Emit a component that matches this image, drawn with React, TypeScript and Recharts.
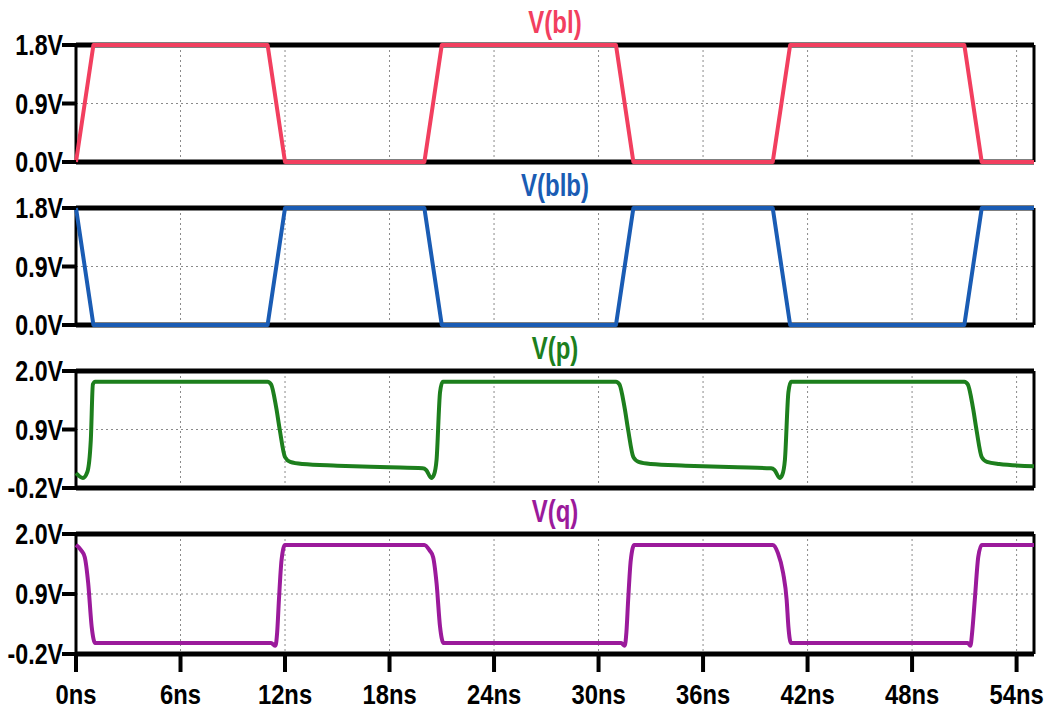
import React from 'react';
import { LineChart, Line, XAxis, YAxis, CartesianGrid } from 'recharts';

// ---- data ----
const timeTicks = [0, 6, 12, 18, 24, 30, 36, 42, 48, 54];
const timeDomain: [number, number] = [0, 55];

const blTimes = [0, 1, 11, 12, 20, 21, 31, 32, 40, 41, 51, 52, 55];
const blValues = [0, 1.8, 1.8, 0, 0, 1.8, 1.8, 0, 0, 1.8, 1.8, 0, 0];

const blbTimes = [0, 1, 11, 12, 20, 21, 31, 32, 40, 41, 51, 52, 55];
const blbValues = [1.8, 0, 0, 1.8, 1.8, 0, 0, 1.8, 1.8, 0, 0, 1.8, 1.8];

const pTimes = [
  0, 0.4, 0.65, 0.85, 0.97, 1.1, 11.0, 11.2, 11.5, 11.7, 12.0, 12.3, 13, 15, 18, 19.9, 20.1, 20.4, 20.55, 20.7, 20.9, 21.05,
  31.0, 31.2, 31.5, 31.7, 32.0, 32.3, 33, 35, 38, 39.9, 40.1, 40.4, 40.55, 40.7, 40.9, 41.05,
  51.0, 51.2, 51.5, 51.7, 52.0, 52.3, 53, 55,
];
const pValues = [
  0.08, -0.01, 0.1, 0.7, 1.75, 1.8, 1.8, 1.75, 1.3, 0.89, 0.38, 0.29, 0.25, 0.22, 0.19, 0.17, 0.14, -0.01, 0.05, 0.33, 1.6, 1.8,
  1.8, 1.75, 1.3, 0.89, 0.38, 0.29, 0.25, 0.22, 0.19, 0.17, 0.14, -0.01, 0.05, 0.33, 1.6, 1.8,
  1.8, 1.75, 1.3, 0.89, 0.38, 0.29, 0.25, 0.21,
];

const qTimes = [
  0, 0.3, 0.5, 0.7, 0.9, 1.1, 11.2, 11.45, 11.55, 11.65, 11.8, 12.0,
  20.0, 20.3, 20.5, 20.7, 20.9, 21.1, 31.3, 31.5, 31.6, 31.7, 31.85, 32.05,
  40.0, 40.3, 40.6, 40.8, 40.9, 41.05, 51.2, 51.35, 51.45, 51.6, 51.8, 52.0, 55,
];
const qValues = [
  1.8, 1.7, 1.58, 1.1, 0.3, 0.0, 0.0, -0.05, 0.2, 0.79, 1.52, 1.8,
  1.8, 1.7, 1.58, 1.1, 0.3, 0.0, 0.0, -0.05, 0.2, 0.79, 1.52, 1.8,
  1.8, 1.65, 1.28, 0.79, 0.3, 0.0, 0.0, -0.05, 0.2, 0.79, 1.58, 1.8, 1.8,
];

const ticks18 = [0, 0.9, 1.8];
const ticks20 = [-0.2, 0.9, 2.0];

const build = (ts: number[], vs: number[]) => ts.map((t, i) => ({ t, v: vs[i] }));

const FONT = '"Liberation Sans", Arial, sans-serif';
const SQUEEZE = 0.8;

const YTick = (props: any) => {
  const { x, y, payload } = props;
  return (
    <g transform={`translate(${x + 1},${y}) scale(${SQUEEZE},1)`}>
      <text x={0} y={0} dy="0.36em" textAnchor="end" fill="#000" fontSize={29} fontWeight="bold" fontFamily={FONT}>
        {`${Number(payload.value).toFixed(1)}V`}
      </text>
    </g>
  );
};

const XTick = (props: any) => {
  const { x, y, payload } = props;
  return (
    <g transform={`translate(${x},${y}) scale(0.85,1)`}>
      <text x={0} y={0} dy="0.71em" textAnchor="middle" fill="#000" fontSize={28} fontWeight="bold" fontFamily={FONT}>
        {`${payload.value}ns`}
      </text>
    </g>
  );
};

const NoTick = () => <g />;

type PanelProps = {
  data: { t: number; v: number }[];
  color: string;
  domain: [number, number];
  yTicks: number[];
  top: number;
  plotH: number;
  showX: boolean;
  curve: 'linear' | 'monotone';
};

const Panel = ({ data, color, domain, yTicks, top, plotH, showX, curve }: PanelProps) => {
  const mTop = 20;
  const xH = showX ? 58 : 1;
  const mBottom = showX ? 0 : 20;
  const h = mTop + plotH + xH + mBottom;
  return (
    <div style={{ position: 'absolute', left: 0, top: top - mTop }}>
      <LineChart width={1048} height={h} data={data} margin={{ top: mTop, right: 14, left: 0, bottom: mBottom }}>
        <CartesianGrid
          stroke="#8a8a8a"
          strokeDasharray="2 3"
          strokeWidth={1}
          horizontalValues={[0.9]}
          verticalValues={timeTicks}
        />
        {/* frame: thick top and bottom, thinner left and right */}
        <CartesianGrid stroke="#000" strokeWidth={5} vertical={false} horizontalValues={domain} />
        <CartesianGrid stroke="#000" strokeWidth={3} horizontal={false} verticalValues={timeDomain} />
        <XAxis
          dataKey="t"
          type="number"
          domain={timeDomain}
          ticks={timeTicks}
          interval={0}
          height={xH}
          axisLine={false}
          tick={showX ? <XTick /> : <NoTick />}
          tickLine={showX ? { stroke: '#000', strokeWidth: 4 } : false}
          tickSize={18}
          tickMargin={12}
        />
        <YAxis
          type="number"
          domain={domain}
          ticks={yTicks}
          interval={0}
          width={76}
          axisLine={false}
          tickLine={{ stroke: '#000', strokeWidth: 4 }}
          tickSize={14}
          tickMargin={0}
          tick={<YTick />}
        />
        <Line
          dataKey="v"
          type={curve}
          stroke={color}
          strokeWidth={4}
          dot={false}
          activeDot={false}
          isAnimationActive={false}
          strokeLinejoin="round"
        />
      </LineChart>
    </div>
  );
};

const titles = [
  { text: 'V(bl)', color: '#f23f5f', top: 45 },
  { text: 'V(blb)', color: '#1a5cb4', top: 208 },
  { text: 'V(p)', color: '#1d7f1d', top: 371 },
  { text: 'V(q)', color: '#9b1a9b', top: 534 },
];

export default function App() {
  return (
    <div style={{ position: 'absolute', left: 0, top: 0, width: 1048, height: 713, background: '#fff', overflow: 'hidden' }}>
      <Panel data={build(blTimes, blValues)} color="#f23f5f" domain={[0, 1.8]} yTicks={ticks18} top={45} plotH={117} showX={false} curve="linear" />
      <Panel data={build(blbTimes, blbValues)} color="#1a5cb4" domain={[0, 1.8]} yTicks={ticks18} top={208} plotH={117} showX={false} curve="linear" />
      <Panel data={build(pTimes, pValues)} color="#1d7f1d" domain={[-0.2, 2.0]} yTicks={ticks20} top={371} plotH={117} showX={false} curve="monotone" />
      <Panel data={build(qTimes, qValues)} color="#9b1a9b" domain={[-0.2, 2.0]} yTicks={ticks20} top={534} plotH={120} showX={true} curve="monotone" />
      <svg width={1048} height={713} style={{ position: 'absolute', left: 0, top: 0, pointerEvents: 'none' }}>
        {titles.map((t) => (
          <g key={t.text} transform={`translate(555,${t.top - 12}) scale(0.75,1)`}>
            <text x={0} y={0} textAnchor="middle" fill={t.color} fontSize={32} fontWeight="bold" fontFamily={FONT}>
              {t.text}
            </text>
          </g>
        ))}
      </svg>
    </div>
  );
}
